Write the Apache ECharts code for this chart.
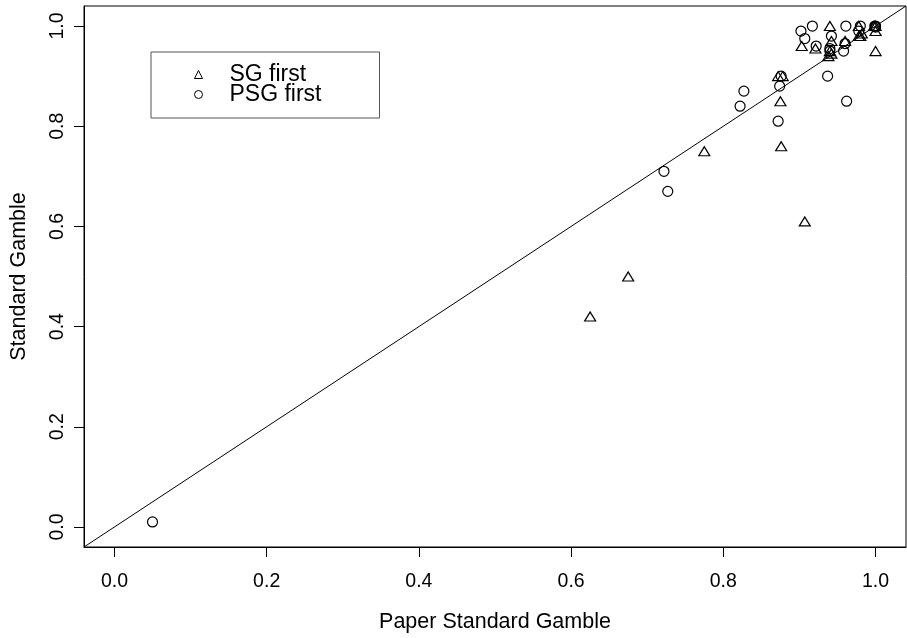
<!DOCTYPE html>
<html>
<head>
<meta charset="utf-8">
<script src="https://cdn.jsdelivr.net/npm/echarts@6/dist/echarts.min.js"></script>
<style>html,body{margin:0;padding:0;background:#fff}#c{width:907px;height:638px}</style>
</head>
<body>
<div id="c"></div>
<script>
const seriesNames = ['SG first', 'PSG first'];
const sgFirst = [
  [0.625,0.42],[0.675,0.50],[0.775,0.75],[0.876,0.76],[0.907,0.61],[0.875,0.85],
  [0.872,0.90],[0.878,0.90],[0.903,0.96],[0.921,0.955],[0.94,1.0],[0.942,0.97],
  [0.94,0.95],[0.938,0.94],[0.942,0.945],[0.96,0.97],[0.978,1.0],[0.98,0.98],
  [0.982,0.985],[0.978,0.98],[1.0,0.95],[1.0,0.99],[1.0,1.0],[0.998,1.0]
];
const psgFirst = [
  [0.05,0.01],[0.722,0.71],[0.727,0.67],[0.822,0.84],[0.827,0.87],[0.872,0.81],
  [0.874,0.88],[0.876,0.90],[0.902,0.99],[0.907,0.975],[0.917,1.0],[0.922,0.96],
  [0.937,0.90],[0.942,0.98],[0.94,0.955],[0.94,0.95],[0.958,0.95],[0.961,1.0],
  [0.96,0.965],[0.962,0.85],[0.978,0.99],[0.98,1.0],[1.0,1.0],[0.999,1.0],[1.0,0.998]
];
const refLine = [[-0.04,-0.04],[1.04,1.04]];
const tickValues = [0, 0.2, 0.4, 0.6, 0.8, 1.0];
const axisMin = -0.04, axisMax = 1.04;

const font = 'Liberation Sans, Arial, Helvetica, sans-serif';
const chart = echarts.init(document.getElementById('c'));
const axisCommon = {
  type: 'value', min: axisMin, max: axisMax,
  nameLocation: 'middle',
  nameTextStyle: {fontFamily: font, fontSize: 21.5, color: '#000'},
  axisLine: {show: true, onZero: false, lineStyle: {color: '#000', width: 1}},
  axisTick: {show: true, customValues: tickValues, length: 10, lineStyle: {color: '#000', width: 1}},
  axisLabel: {show: true, customValues: tickValues, fontFamily: font, fontSize: 19.5, color: '#000',
    formatter: v => v.toFixed(1)},
  splitLine: {show: false}
};
chart.setOption({
  animation: false,
  backgroundColor: '#fff',
  grid: {left: 81, right: 1, top: 6, bottom: 86, show: true, borderColor: '#000', borderWidth: 1, containLabel: false},
  xAxis: Object.assign({}, axisCommon, {
    name: 'Paper Standard Gamble', nameGap: 64,
    axisLabel: Object.assign({}, axisCommon.axisLabel, {margin: 25})
  }),
  yAxis: Object.assign({}, axisCommon, {
    name: 'Standard Gamble', nameGap: 54,
    axisLabel: Object.assign({}, axisCommon.axisLabel, {margin: 16, rotate: 90})
  }),
  legend: {
    orient: 'vertical', left: 151, top: 52,
    borderColor: '#555', borderWidth: 1,
    padding: [11, 58, 12, 41],
    itemWidth: 8, itemHeight: 8, itemGap: -3,
    textStyle: {fontFamily: font, fontSize: 23, color: '#000', lineHeight: 20, padding: [0, 0, 0, 22]},
    data: [
      {name: seriesNames[0], icon: 'triangle', itemStyle: {color: 'none', borderColor: '#000', borderWidth: 1}},
      {name: seriesNames[1], icon: 'circle', itemStyle: {color: 'none', borderColor: '#000', borderWidth: 1}}
    ]
  },
  series: [
    {type: 'line', data: refLine, showSymbol: false, symbol: 'none', silent: true,
      lineStyle: {color: '#000', width: 1}},
    {name: seriesNames[0], type: 'scatter', data: sgFirst, symbol: 'triangle', symbolSize: [11, 9],
      itemStyle: {color: 'none', borderColor: '#000', borderWidth: 1.2, opacity: 1}},
    {name: seriesNames[1], type: 'scatter', data: psgFirst, symbol: 'circle', symbolSize: 10,
      itemStyle: {color: 'none', borderColor: '#000', borderWidth: 1.2, opacity: 1}}
  ]
});
</script>
</body>
</html>
